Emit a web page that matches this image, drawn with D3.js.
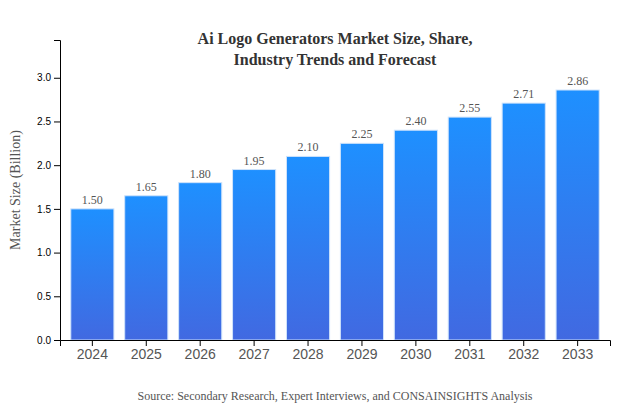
<!DOCTYPE html>
<html>
<head>
<meta charset="utf-8">
<script src="https://cdn.jsdelivr.net/npm/d3@7"></script>
<style>
  html, body { margin: 0; padding: 0; background: #fff; }
  svg { display: block; }
</style>
</head>
<body>
<svg id="chart"></svg>
<script>
const years = ['2024', '2025', '2026', '2027', '2028', '2029', '2030', '2031', '2032', '2033'];
const marketSize = [1.50, 1.65, 1.80, 1.95, 2.10, 2.25, 2.40, 2.55, 2.71, 2.86];
const yTicks = [0, 0.5, 1.0, 1.5, 2.0, 2.5, 3.0];
const titleLines = ['Ai Logo Generators Market Size, Share,', 'Industry Trends and Forecast'];
const yLabel = 'Market Size (Billion)';
const source = 'Source: Secondary Research, Expert Interviews, and CONSAINSIGHTS Analysis';

const serif = '"Liberation Serif", "Times New Roman", serif';
const margin = { top: 40, right: 20, bottom: 70, left: 60 };
const width = 630 - margin.left - margin.right;
const height = 410 - margin.top - margin.bottom;

const svg = d3.select('#chart').attr('width', 630).attr('height', 410);

// each bar runs the whole gradient, top to bottom
const grad = svg.append('defs').append('linearGradient')
  .attr('id', 'barFill')
  .attr('x1', 0).attr('x2', 0)
  .attr('y1', 0).attr('y2', 1);
grad.append('stop').attr('offset', '0%').attr('stop-color', '#1e90ff');
grad.append('stop').attr('offset', '100%').attr('stop-color', '#4169e1');

const g = svg.append('g').attr('transform', `translate(${margin.left},${margin.top})`);

const x = d3.scaleBand().domain(years).range([0, width]).padding(0.2);
const y = d3.scaleLinear().domain([0, d3.max(marketSize) * 1.2]).range([height, 0]);

g.selectAll('.bar')
  .data(marketSize)
  .enter()
  .append('rect')
  .attr('class', 'bar')
  .attr('x', (d, i) => x(years[i]))
  .attr('y', d => y(d))
  .attr('width', x.bandwidth())
  .attr('height', d => height - y(d))
  .attr('fill', 'url(#barFill)')
  .attr('stroke', '#cfe3fb')
  .attr('stroke-width', 1);

g.selectAll('.val')
  .data(marketSize)
  .enter()
  .append('text')
  .attr('class', 'val')
  .attr('x', (d, i) => x(years[i]) + x.bandwidth() / 2)
  .attr('y', d => y(d) - 5)
  .attr('text-anchor', 'middle')
  .style('font-family', serif)
  .style('font-size', '12px')
  .style('fill', '#555')
  .text(d => d.toFixed(2));

const xAxis = g.append('g')
  .attr('transform', `translate(0,${height})`)
  .call(d3.axisBottom(x));
xAxis.selectAll('text')
  .style('font-family', '"Liberation Sans", Arial, sans-serif')
  .style('font-size', '14px')
  .style('fill', '#555');

const yAxis = g.append('g')
  .call(d3.axisLeft(y).tickValues(yTicks).tickFormat(d3.format('.1f')));
yAxis.selectAll('text')
  .style('font-family', '"Liberation Sans", Arial, sans-serif')
  .style('font-size', '10px');

svg.append('text')
  .attr('transform', `translate(20,${margin.top + height / 2}) rotate(-90)`)
  .attr('text-anchor', 'middle')
  .style('font-family', serif)
  .style('font-size', '14px')
  .style('fill', '#555')
  .text(yLabel);

svg.append('text')
  .attr('x', 335)
  .attr('text-anchor', 'middle')
  .style('font-family', serif)
  .style('font-size', '16px')
  .style('font-weight', 'bold')
  .style('fill', '#333')
  .selectAll('tspan')
  .data(titleLines)
  .enter()
  .append('tspan')
  .attr('x', 335)
  .attr('y', (d, i) => 44 + i * 21)
  .text(d => d);

svg.append('text')
  .attr('x', 335)
  .attr('y', 400)
  .attr('text-anchor', 'middle')
  .style('font-family', serif)
  .style('font-size', '12px')
  .style('fill', '#555')
  .text(source);
</script>
</body>
</html>
